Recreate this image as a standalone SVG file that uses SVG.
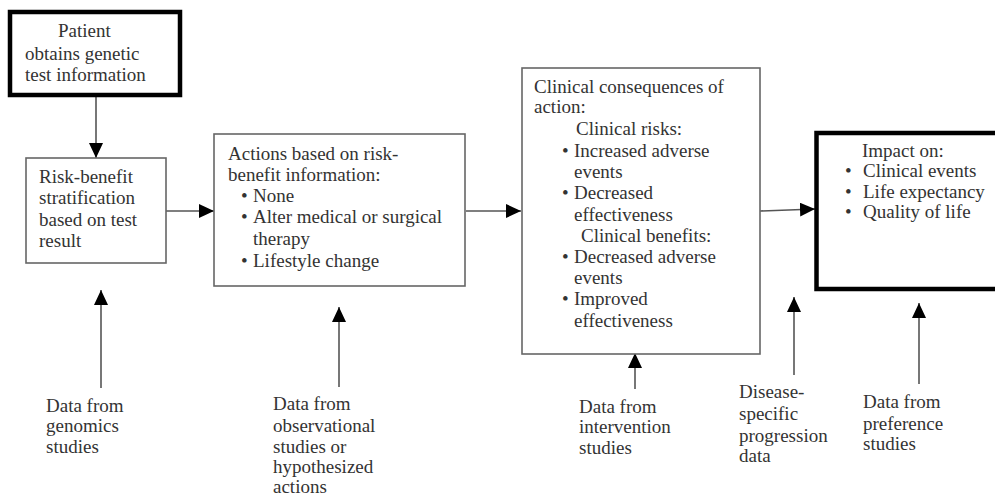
<svg xmlns="http://www.w3.org/2000/svg" width="995" height="496" viewBox="0 0 995 496">
<style>
  text { font-family: "Liberation Serif", "Times New Roman", serif; font-size: 19px; fill: #333; }
  .box { fill: #fff; stroke: #666; stroke-width: 1.6; }
  .thick { fill: #fff; stroke: #000; stroke-width: 4.5; }
  .conn { stroke: #555; stroke-width: 1.6; fill: none; marker-end: url(#ah); }
</style>
<defs>
  <marker id="ah" viewBox="0 0 15 14" refX="15" refY="7" markerWidth="15" markerHeight="14" markerUnits="userSpaceOnUse" orient="auto">
    <path d="M0,0 L15,7 L0,14 z" fill="#000"/>
  </marker>
</defs>
<rect width="995" height="496" fill="#fff"/>

<g id="connectors">
  <line class="conn" x1="96" y1="97" x2="96" y2="158"/>
  <line class="conn" x1="166" y1="211" x2="214" y2="211"/>
  <line class="conn" x1="466" y1="211" x2="521" y2="211"/>
  <line class="conn" x1="760" y1="211" x2="815" y2="209"/>
  <line class="conn" x1="101" y1="388" x2="101" y2="290"/>
  <line class="conn" x1="339" y1="387" x2="339" y2="307"/>
  <line class="conn" x1="635" y1="389" x2="635" y2="353"/>
  <line class="conn" x1="794" y1="375" x2="794" y2="297"/>
  <line class="conn" x1="919" y1="384" x2="919" y2="303"/>
</g>

<g id="patient">
  <rect class="thick" x="10" y="12" width="170" height="83"/>
  <text x="58" y="37">Patient</text>
  <text x="25" y="60">obtains genetic</text>
  <text x="25" y="81">test information</text>
</g>

<g id="stratification">
  <rect class="box" x="26" y="158" width="140" height="105"/>
  <text x="39" y="183">Risk-benefit</text>
  <text x="39" y="204">stratification</text>
  <text x="39" y="226">based on test</text>
  <text x="39" y="247">result</text>
</g>

<g id="actions">
  <rect class="box" x="214" y="134" width="251" height="152"/>
  <text x="228" y="160">Actions based on risk-</text>
  <text x="228" y="181">benefit information:</text>
  <text x="241" y="202">•</text><text x="253" y="202">None</text>
  <text x="241" y="223">•</text><text x="253" y="223">Alter medical or surgical</text>
  <text x="253" y="245">therapy</text>
  <text x="241" y="267">•</text><text x="253" y="267">Lifestyle change</text>
</g>

<g id="consequences">
  <rect class="box" x="522" y="68" width="238" height="286"/>
  <text x="534" y="93">Clinical consequences of</text>
  <text x="534" y="113">action:</text>
  <text x="576" y="135">Clinical risks:</text>
  <text x="562" y="157">•</text><text x="574" y="157">Increased adverse</text>
  <text x="574" y="178">events</text>
  <text x="562" y="199">•</text><text x="574" y="199">Decreased</text>
  <text x="574" y="221">effectiveness</text>
  <text x="581" y="242">Clinical benefits:</text>
  <text x="562" y="263">•</text><text x="574" y="263">Decreased adverse</text>
  <text x="574" y="284">events</text>
  <text x="562" y="305">•</text><text x="574" y="305">Improved</text>
  <text x="574" y="327">effectiveness</text>
</g>

<g id="impact">
  <rect class="thick" x="816.5" y="133" width="200" height="156"/>
  <text x="862" y="157">Impact on:</text>
  <text x="845" y="177">•</text><text x="863" y="177">Clinical events</text>
  <text x="845" y="198">•</text><text x="863" y="198">Life expectancy</text>
  <text x="845" y="218">•</text><text x="863" y="218">Quality of life</text>
</g>

<g id="genomics">
  <text x="46" y="412">Data from</text>
  <text x="46" y="432">genomics</text>
  <text x="46" y="453">studies</text>
</g>

<g id="observational">
  <text x="273" y="410">Data from</text>
  <text x="273" y="432">observational</text>
  <text x="273" y="453">studies or</text>
  <text x="273" y="473">hypothesized</text>
  <text x="273" y="493">actions</text>
</g>

<g id="intervention">
  <text x="579" y="413">Data from</text>
  <text x="579" y="433">intervention</text>
  <text x="579" y="454">studies</text>
</g>

<g id="progression">
  <text x="739" y="398">Disease-</text>
  <text x="739" y="420">specific</text>
  <text x="739" y="442">progression</text>
  <text x="739" y="462">data</text>
</g>

<g id="preference">
  <text x="863" y="408">Data from</text>
  <text x="863" y="430">preference</text>
  <text x="863" y="450">studies</text>
</g>
</svg>
